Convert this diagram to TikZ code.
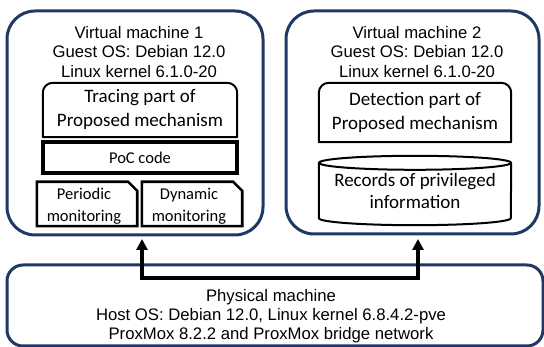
\documentclass[tikz,border=0pt]{standalone}
\usepackage{fontspec}
\usetikzlibrary{arrows.meta}
\newfontfamily\arialf{Liberation Sans}
\newfontfamily\calf{Carlito}
\definecolor{navy}{HTML}{1F3864}
\tikzset{
  vmbox/.style={draw=navy, line width=3pt, rounded corners=28pt, inner sep=0pt},
  hostbox/.style={draw=navy, line width=3pt, rounded corners=16pt, inner sep=0pt},
  arialtext/.style={font=\arialf\fontsize{16.7pt}{19.5pt}\selectfont, align=center, inner sep=0pt},
  calbig/.style={font=\calf\fontsize{19pt}{24pt}\selectfont, align=center, inner sep=0pt},
  calcyl/.style={font=\calf\fontsize{19pt}{22pt}\selectfont, align=center, inner sep=0pt},
  calsmall/.style={font=\calf\fontsize{16.5pt}{22pt}\selectfont, align=center, inner sep=0pt},
  partline/.style={draw=black, line width=2pt, line join=round},
  poc/.style={draw=black, line width=3.5pt, inner sep=0pt, minimum width=194pt, minimum height=31pt},
  monline/.style={draw=black, line width=2.6pt, line join=miter},
  conn/.style={line width=4pt, line join=miter, {Triangle[length=11pt,width=11pt]}-{Triangle[length=11pt,width=11pt]}},
}
\begin{document}
\begin{tikzpicture}[x=1pt,y=1pt]
\useasboundingbox (0,0) rectangle (544,347);
% virtual machine boxes
\node[vmbox, minimum width=256pt, minimum height=224pt] (vm1) at (135,224) {};
\node[vmbox, minimum width=253pt, minimum height=223pt] (vm2) at (412.5,224.5) {};
\node[arialtext] (vm1t) at (139,295) {Virtual machine 1\\Guest OS: Debian 12.0\\Linux kernel 6.1.0-20};
\node[arialtext] (vm2t) at (417,295) {Virtual machine 2\\Guest OS: Debian 12.0\\Linux kernel 6.1.0-20};
% tracing part
\node[calbig, minimum width=194pt, minimum height=54pt] (trace) at (140,237) {Tracing part of\\Proposed mechanism};
\draw[partline] (trace.south west) -- ([yshift=-10pt]trace.north west)
  arc[start angle=180, end angle=90, radius=10pt] -- ([xshift=-10pt]trace.north east)
  arc[start angle=90, end angle=0, radius=10pt] -- (trace.south east) -- cycle;
% PoC code
\node[poc, font=\calf\fontsize{16.5pt}{20pt}\selectfont] (poc) at (140,189.5) {PoC code};
% monitoring boxes
\node[calsmall, minimum width=100pt, minimum height=44pt] (per) at (87,143) {};
\node[calsmall] (pert) at (84,141) {Periodic\\monitoring};
\draw[monline] (per.south west) -- (per.north west) -- ([xshift=-9pt]per.north east)
  -- ([yshift=-9pt]per.north east) -- (per.south east) -- cycle;
\node[calsmall, minimum width=100pt, minimum height=44pt] (dyn) at (192,143) {};
\node[calsmall] (dynt) at (189,141) {Dynamic\\monitoring};
\draw[monline] (dyn.south west) -- (dyn.north west) -- ([xshift=-9pt]dyn.north east)
  -- ([yshift=-9pt]dyn.north east) -- (dyn.south east) -- cycle;
% detection part
\node[calbig, minimum width=192pt, minimum height=59pt] (det) at (415,234.5) {Detection part of\\Proposed mechanism};
\draw[partline] (det.south west) -- ([yshift=-10pt]det.north west)
  arc[start angle=180, end angle=90, radius=10pt] -- ([xshift=-10pt]det.north east)
  arc[start angle=90, end angle=0, radius=10pt] -- (det.south east) -- cycle;
% database cylinder
\node[calcyl, minimum width=192pt, minimum height=55pt] (db) at (415,156.5) {Records of privileged\\information};
\draw[partline] (db.north west) -- (db.south west)
  arc[start angle=180, end angle=360, x radius=96pt, y radius=7pt] -- (db.north east);
\draw[partline] (db.north) ellipse[x radius=96pt, y radius=7pt];
% physical machine
\node[hostbox, minimum width=536pt, minimum height=81pt] (host) at (275,41.5) {};
\node[arialtext, font=\arialf\fontsize{16.7pt}{19pt}\selectfont] (hostt) at (271,30.5) {Physical machine\\Host OS: Debian 12.0, Linux kernel 6.8.4.2-pve\\ProxMox 8.2.2 and ProxMox bridge network};
% connector
\coordinate (t1) at (142,108);
\coordinate (t2) at (418,108);
\coordinate (j1) at (142,69);
\coordinate (j2) at (418,69);
\draw[conn] (t1) -- (j1) -- (j2) -- (t2);
\end{tikzpicture}
\end{document}
